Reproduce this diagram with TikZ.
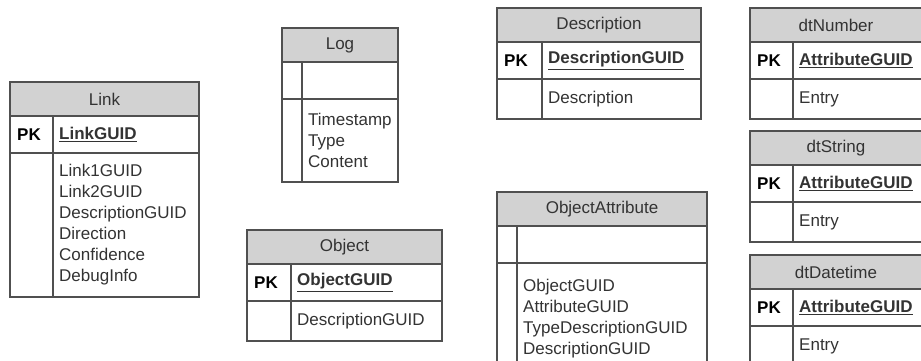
\documentclass[tikz,border=0pt]{standalone}
\usepackage{fontspec}
\setmainfont{Liberation Sans}
\usepackage{tikz}
\usetikzlibrary{positioning}
\definecolor{edge}{HTML}{505050}
\definecolor{hdfill}{HTML}{D2D2D2}
\definecolor{ink}{HTML}{333333}
% one table: name, top left, key width, width, body height, title, key, key field, fields
\newcommand{\pktable}[9]{%
\node[hd,minimum width=#4] (#1) at (#2) {#6};
\node[cell,minimum width=#3,minimum height=37] (#1-kc) at (#1.south west) {};
\node[cell,minimum width=#4-#3,minimum height=37] (#1-fc) at (#1-kc.north east) {};
\node[cell,minimum width=#3,minimum height=#5] (#1-bc) at (#1-kc.south west) {};
\node[cell,minimum width=#4-#3,minimum height=#5] (#1-bf) at (#1-bc.north east) {};
\node[pk] (#1-pk) at ([xshift=7]#1-kc.west) {#7};
\node[key] (#1-id) at ([xshift=6]#1-fc.west) {#8};
\node[attr] (#1-at) at ([xshift=6]#1-bf.west) {#9};}

\begin{document}
\begin{tikzpicture}[x=1pt,y=-1pt,
hd/.style={draw=edge,line width=1.2pt,fill=hdfill,anchor=north west,inner sep=0pt,outer sep=0pt,
  minimum height=34,text=ink,font=\fontsize{17}{21}\selectfont},
cell/.style={draw=edge,line width=1.2pt,fill=white,anchor=north west,inner sep=0pt,outer sep=0pt},
pk/.style={anchor=west,inner sep=0pt,font=\fontsize{17}{21}\selectfont\bfseries},
key/.style={anchor=west,inner sep=0pt,text=ink,font=\fontsize{17}{21}\selectfont\bfseries},
attr/.style={anchor=west,inner sep=0pt,align=left,text=ink,font=\fontsize{17}{21}\selectfont}]
\clip (0,0) rectangle (921,361);
\pktable{link}{10,82}{43}{189}{144}{Link}{PK}{\underline{LinkGUID}}
  {Link1GUID\\Link2GUID\\DescriptionGUID\\Direction\\Confidence\\DebugInfo}
\pktable{log}{282,28}{20}{116}{83}{Log}{}{}{Timestamp\\Type\\Content}
\pktable{object}{247,230}{44}{195}{40}{Object}{PK}{\underline{ObjectGUID}}{DescriptionGUID}
\pktable{desc}{497,8}{45}{204}{40}{Description}{PK}{\underline{DescriptionGUID}}{Description}
\pktable{objattr}{497,192}{20}{210}{112}{ObjectAttribute}{}{}
  {ObjectGUID\\AttributeGUID\\TypeDescriptionGUID\\DescriptionGUID}
\pktable{number}{750,8}{43}{172}{40}{dtNumber}{PK}{\underline{AttributeGUID}}{Entry}
\pktable{string}{750,131}{43}{172}{40}{dtString}{PK}{\underline{AttributeGUID}}{Entry}
\pktable{datetime}{750,255}{43}{172}{40}{dtDatetime}{PK}{\underline{AttributeGUID}}{Entry}
\end{tikzpicture}
\end{document}
